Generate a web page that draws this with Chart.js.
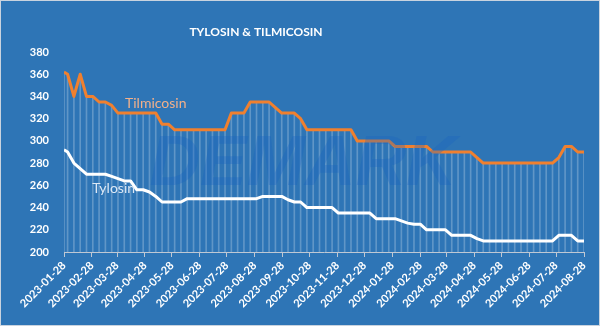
<!DOCTYPE html>
<html>
<head>
<meta charset="utf-8">
<script src="https://cdn.jsdelivr.net/npm/chart.js@4.4.1/dist/chart.umd.min.js"></script>
<style>
  html, body { margin: 0; padding: 0; background: #2E75B6; }
  #wrap { width: 598px; height: 324px; border: 1px solid #C9D3DF; }
  canvas { display: block; }
</style>
</head>
<body>
<div id="wrap"><canvas id="chartPrices" width="598" height="324"></canvas></div>
<script>
// weekly price points: first quote on 2023-01-28, then every Wednesday from 2023-02-01
const firstDate = '2023-01-28';
const weeklyFrom = '2023-02-01';
const weeklyCount = 83;

const tilmicosin = [
   362, 360, 340, 360, 340, 340, 335, 335, 332, 325,
   325, 325, 325, 325, 325, 325, 315, 315, 310, 310,
   310, 310, 310, 310, 310, 310, 310, 325, 325, 325,
   335, 335, 335, 335, 330, 325, 325, 325, 320, 310,
   310, 310, 310, 310, 310, 310, 310, 300, 300, 300,
   300, 300, 300, 295, 295, 295, 295, 295, 295, 290,
   290, 290, 290, 290, 290, 290, 285, 280, 280, 280,
   280, 280, 280, 280, 280, 280, 280, 280, 280, 285,
   295, 295, 290, 290
];

const tylosin = [
   292, 290, 280, 275, 270, 270, 270, 270, 268, 266,
   264, 264, 256, 256, 254, 250, 245, 245, 245, 245,
   248, 248, 248, 248, 248, 248, 248, 248, 248, 248,
   248, 248, 250, 250, 250, 250, 247, 245, 245, 240,
   240, 240, 240, 240, 235, 235, 235, 235, 235, 235,
   230, 230, 230, 230, 228, 226, 225, 225, 220, 220,
   220, 220, 215, 215, 215, 215, 212, 210, 210, 210,
   210, 210, 210, 210, 210, 210, 210, 210, 210, 215,
   215, 215, 210, 210
];

const tickLabels = [
   '2023-01-28', '2023-02-28', '2023-03-28', '2023-04-28', '2023-05-28',
   '2023-06-28', '2023-07-28', '2023-08-28', '2023-09-28', '2023-10-28',
   '2023-11-28', '2023-12-28', '2024-01-28', '2024-02-28', '2024-03-28',
   '2024-04-28', '2024-05-28', '2024-06-28', '2024-07-28', '2024-08-28'
];

const yTicks = [200, 220, 240, 260, 280, 300, 320, 340, 360, 380];
const TITLE = 'TYLOSIN & TILMICOSIN';

const DAY = 86400000;
const toUTC = s => { const p = s.split('-').map(Number); return Date.UTC(p[0], p[1] - 1, p[2]); };
const dayOf = s => Math.round((toUTC(s) - toUTC(firstDate)) / DAY);

const dates = [firstDate];
for (let i = 0; i < weeklyCount; i++) {
   const d = new Date(toUTC(weeklyFrom) + i * 7 * DAY);
   dates.push(d.toISOString().slice(0, 10));
}
const days = dates.map(dayOf);
const tickDays = tickLabels.map(dayOf);
const labelByDay = {};
tickLabels.forEach((l, i) => { labelByDay[tickDays[i]] = l; });

const pts = vals => vals.map((v, i) => ({ x: days[i], y: v }));

const FONT = "Lato, 'Open Sans', sans-serif";

const paintPlugin = {
   id: 'paint',
   beforeDraw(chart) {
      const { ctx, width, height } = chart;
      ctx.save();
      ctx.fillStyle = '#2E75B6';
      ctx.fillRect(0, 0, width, height);
      ctx.fillStyle = '#FFFFFF';
      ctx.font = `bold 12px ${FONT}`;
      ctx.textAlign = 'center';
      ctx.textBaseline = 'middle';
      ctx.fillText(TITLE, 255, 31);
      ctx.restore();
   },
   afterDatasetsDraw(chart) {
      const { ctx } = chart;
      ctx.save();
      // faint logo watermark
      ctx.font = `italic bold 70px 'Liberation Sans', sans-serif`;
      ctx.fillStyle = 'rgba(26, 98, 192, 0.32)';
      ctx.textAlign = 'center';
      ctx.textBaseline = 'alphabetic';
      ctx.fillText('DEMARK', 302, 184);

      // series name labels
      const tilPt = chart.getDatasetMeta(0).data[15];
      const tylPt = chart.getDatasetMeta(1).data[8];
      ctx.font = `14px ${FONT}`;
      ctx.textBaseline = 'middle';
      ctx.fillStyle = '#F2B08A';
      ctx.fillText('Tilmicosin', tilPt.x, tilPt.y - 10);
      ctx.fillStyle = '#DCE8F5';
      ctx.fillText('Tylosin', tylPt.x + 2, tylPt.y + 12);
      ctx.restore();
   }
};

const ctx = document.getElementById('chartPrices').getContext('2d');
const chartPrices = new Chart(ctx, {
   type: 'line',
   data: {
      datasets: [
         {
            label: 'Tilmicosin',
            data: pts(tilmicosin),
            borderColor: '#F0802F',
            borderWidth: 3,
            pointRadius: 0,
            tension: 0,
            borderJoinStyle: 'round',
            order: 1
         },
         {
            label: 'Tylosin',
            data: pts(tylosin),
            borderColor: '#FFFFFF',
            borderWidth: 3,
            pointRadius: 0,
            tension: 0,
            borderJoinStyle: 'round',
            order: 2
         },
         {
            // drop lines from the upper series down to the axis
            type: 'bar',
            label: 'drop',
            data: pts(tilmicosin),
            backgroundColor: 'rgba(255, 255, 255, 0.24)',
            borderWidth: 0,
            barThickness: 1,
            grouped: false,
            order: 3
         }
      ]
   },
   options: {
      responsive: false,
      animation: false,
      layout: { padding: { top: 51, right: 15, bottom: 0, left: 0 } },
      scales: {
         x: {
            type: 'linear',
            min: 0,
            max: dayOf(tickLabels[tickLabels.length - 1]),
            offset: false,
            afterBuildTicks: scale => { scale.ticks = tickDays.map(v => ({ value: v })); },
            afterFit: scale => { scale.height = 73; },
            border: { display: true, color: '#BFC8D4', width: 1 },
            grid: {
               offset: false,
               drawOnChartArea: false,
               drawTicks: true,
               tickLength: 5,
               color: '#BFC8D4'
            },
            ticks: {
               autoSkip: false,
               minRotation: 45,
               maxRotation: 45,
               padding: 2,
               color: '#FFFFFF',
               font: { family: FONT, size: 11, weight: 'bold' },
               callback: value => labelByDay[value] || ''
            }
         },
         y: {
            min: 200,
            max: 380,
            afterBuildTicks: scale => { scale.ticks = yTicks.map(v => ({ value: v })); },
            afterFit: scale => { scale.width = 63; },
            border: { display: false },
            grid: { display: false, drawTicks: false },
            ticks: {
               padding: 15,
               color: '#FFFFFF',
               font: { family: FONT, size: 11, weight: 'bold' }
            }
         }
      },
      plugins: {
         legend: { display: false },
         title: { display: false },
         tooltip: { enabled: false }
      }
   },
   plugins: [paintPlugin]
});
</script>
</body>
</html>
